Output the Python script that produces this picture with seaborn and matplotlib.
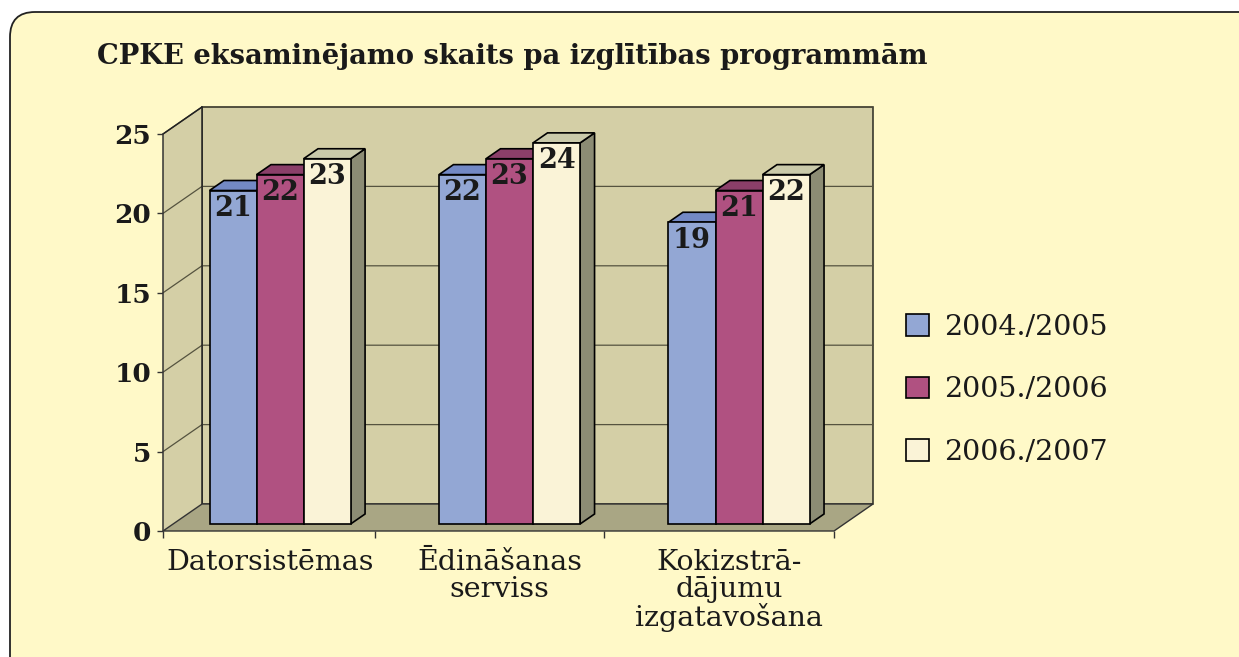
import numpy as np
import pandas as pd
import matplotlib
matplotlib.use("Agg")
import matplotlib.pyplot as plt
import seaborn as sns
from matplotlib.patches import Polygon, FancyBboxPatch, Rectangle

# ---------------- data ----------------
categories = ["Datorsistēmas", "Ēdināšanas\nserviss", "Kokizstrā-\ndājumu\nizgatavošana"]
years = ["2004./2005", "2005./2006", "2006./2007"]
v2004 = [21, 22, 19]
v2005 = [22, 23, 21]
v2006 = [23, 24, 22]
yticks = [0, 5, 10, 15, 20, 25]
title = "CPKE eksaminējamo skaits pa izglītības programmām"

# ---------------- styles ----------------
front_colors = ["#93A7D4", "#B05181", "#FAF3D7"]
top_colors = ["#7389C5", "#8B3F69", "#CACAAA"]
side_colors = ["#5E6E9C", "#7A3558", "#8C8C74"]
panel_color = "#FFF9C8"
wall_color = "#D4CFA6"
floor_color = "#A9A684"
grid_color = "#55533F"
text_color = "#1A1A1A"

sns.set_theme(style="white")
plt.rcParams["font.family"] = ["DejaVu Serif"]

W, H = 1239, 657
fig = plt.figure(figsize=(W / 100, H / 100), dpi=100)
fig.patch.set_facecolor("white")

panel = FancyBboxPatch((10 / 100, -1.0), 14, (H - 12) / 100 + 1.0,
                       boxstyle="round,pad=0,rounding_size=0.25",
                       transform=fig.dpi_scale_trans, facecolor=panel_color,
                       edgecolor="#222222", lw=1.3, zorder=0)
fig.add_artist(panel)

# front plane of the 3D box in pixel coordinates (from top-left)
L, R, B, T = 163, 834, 531, 134
ax = fig.add_axes([L / W, (H - B) / H, (R - L) / W, (B - T) / H])
ax.set_facecolor("none")

df = pd.DataFrame({
    "Programma": categories * 3,
    "Gads": np.repeat(years, len(categories)),
    "Skaits": v2004 + v2005 + v2006,
})

sns.barplot(data=df, x="Programma", y="Skaits", hue="Gads", palette=front_colors,
            width=0.615, edgecolor="black", linewidth=1.2, saturation=1,
            errorbar=None, legend=False, ax=ax)

xmin, xmax = -0.466, 2.458
ymax = yticks[-1]
ax.set_xlim(xmin, xmax)
ax.set_ylim(0, ymax)
for s in ax.spines.values():
    s.set_visible(False)

sx = (R - L) / (xmax - xmin)   # px per x unit
sy = (B - T) / ymax            # px per y unit
DX, DY = 39, 27                # full depth in px
ddx, ddy = DX / sx, DY / sy
f0, f1 = 0.26, 0.63            # bar depth fractions

# walls
ax.add_patch(Polygon([(xmin + ddx, ddy), (xmax + ddx, ddy), (xmax + ddx, ymax + ddy),
                      (xmin + ddx, ymax + ddy)], closed=True, fc=wall_color, ec="#2A2A22",
                     lw=1.1, zorder=1, clip_on=False))
ax.add_patch(Polygon([(xmin, 0), (xmin + ddx, ddy), (xmin + ddx, ymax + ddy), (xmin, ymax)],
                     closed=True, fc=wall_color, ec="none", zorder=1, clip_on=False))
for t in yticks[1:]:
    ax.plot([xmin, xmin + ddx, xmax + ddx], [t, t + ddy, t + ddy], color=grid_color,
            lw=0.9, zorder=2, clip_on=False)
ax.plot([xmin + ddx, xmin + ddx], [ddy, ymax + ddy], color="#222222", lw=1.1, zorder=2,
        clip_on=False)
ax.plot([xmin, xmin + ddx], [ymax, ymax + ddy], color="#222222", lw=1.1, zorder=2,
        clip_on=False)
ax.plot([xmin, xmin], [0, ymax], color="#333333", lw=1.1, zorder=3, clip_on=False)
# floor
ax.add_patch(Polygon([(xmin, 0), (xmax, 0), (xmax + ddx, ddy), (xmin + ddx, ddy)], closed=True,
                     fc=floor_color, ec="#333333", lw=1.0, zorder=3, clip_on=False))

# 3D bars
ox, oy = f0 * ddx, f0 * ddy
bdx, bdy = (f1 - f0) * ddx, (f1 - f0) * ddy
for j, cont in enumerate(ax.containers):
    for rect in cont:
        x0, w, h = rect.get_x(), rect.get_width(), rect.get_height()
        fx, fy = x0 + ox, oy
        rect.set_xy((fx, fy))
        rect.set_clip_on(False)
        rect.set_zorder(10 + 3 * j + 2)
        ax.add_patch(Polygon([(fx + w, fy), (fx + w + bdx, fy + bdy), (fx + w + bdx, fy + h + bdy),
                              (fx + w, fy + h)], closed=True, fc=side_colors[j], ec="black",
                             lw=1.2, zorder=10 + 3 * j, clip_on=False))
        ax.add_patch(Polygon([(fx, fy + h), (fx + w, fy + h), (fx + w + bdx, fy + h + bdy),
                              (fx + bdx, fy + h + bdy)], closed=True, fc=top_colors[j], ec="black",
                             lw=1.2, zorder=10 + 3 * j + 1, clip_on=False))
        ax.text(fx + w / 2, fy + h - 18 / sy, f"{h:.0f}", ha="center", va="center",
                fontsize=19.5, fontweight="bold", color=text_color, zorder=30)

# axes ticks / labels
ax.set_yticks(yticks)
ax.set_yticklabels([str(t) for t in yticks], fontsize=19, fontweight="bold", color=text_color)
ax.set_xticks(range(len(categories)))
ax.set_xticklabels(categories, fontsize=20.5, color=text_color, linespacing=1.0)
ax.set_xticks([xmin, 0.5 - 10 / sx, 1.5 - 10 / sx, xmax], minor=True)
ax.tick_params(axis="y", left=True, length=4.5, width=1, color="#333333", pad=4)
ax.tick_params(axis="x", which="major", bottom=True, length=0, pad=13)
ax.tick_params(axis="x", which="minor", bottom=True, length=5, width=1, color="#333333")
ax.set_xlabel("")
ax.set_ylabel("")

# legend
handles = [Rectangle((0, 0), 1, 1, fc=c, ec="black", lw=1.2) for c in front_colors]
fig.legend(handles, years, loc="center left", bbox_to_anchor=(906 / W, 1 - 390 / H),
           frameon=False, fontsize=20.5, handlelength=0.8, handleheight=0.8,
           handletextpad=0.55, labelspacing=1.25, borderpad=0, borderaxespad=0,
           labelcolor=text_color)

fig.text(97 / W, 1 - 57 / H, title, ha="left", va="center", fontsize=19.7,
         fontweight="bold", color=text_color)

fig.savefig("out.png", dpi=100, facecolor=fig.get_facecolor())
